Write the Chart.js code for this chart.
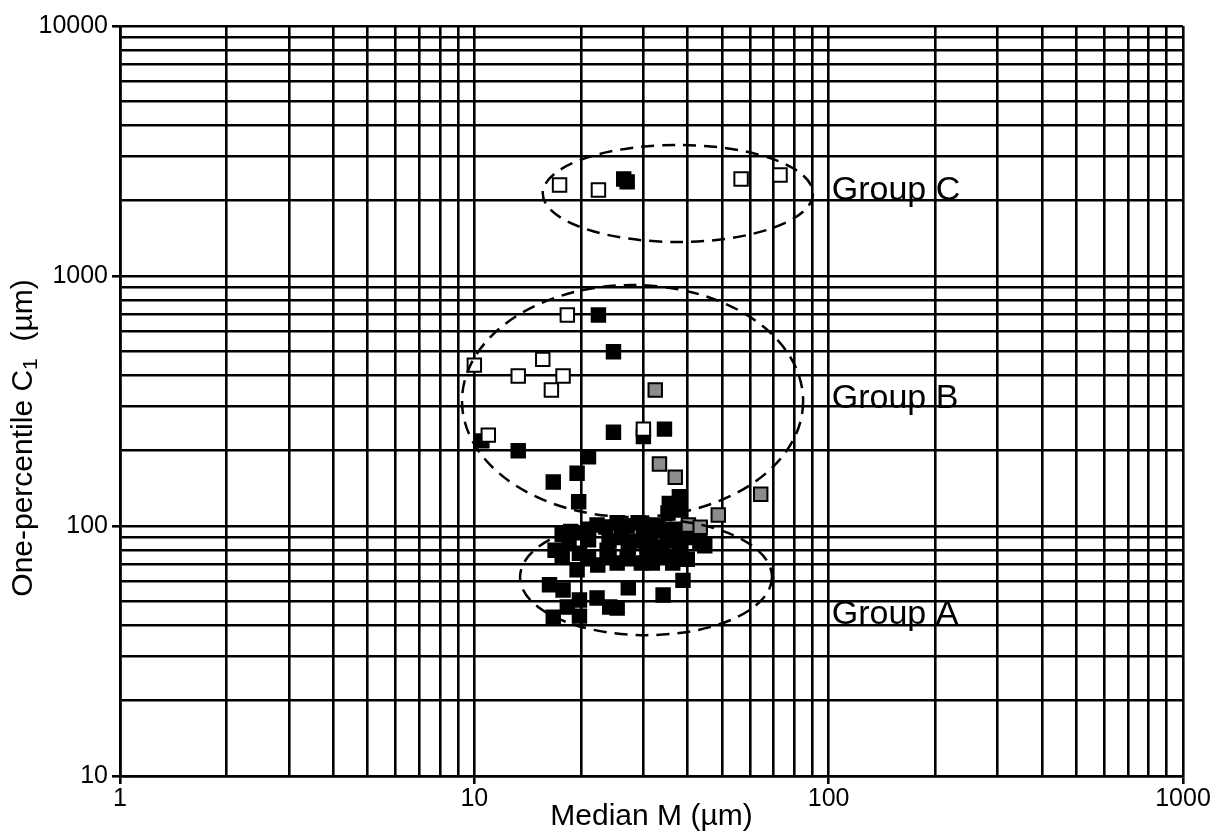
<!DOCTYPE html>
<html><head><meta charset="utf-8">
<script src="https://cdn.jsdelivr.net/npm/chart.js@4.4.1/dist/chart.umd.min.js"></script>
<style>html,body{margin:0;padding:0;background:#fff}canvas{display:block}</style>
</head><body>
<canvas id="c" width="1215" height="832"></canvas>
<script>
// ---- tick values ----
const xTickValues = [1,2,3,4,5,6,7,8,9,10,20,30,40,50,60,70,80,90,100,200,300,400,500,600,700,800,900,1000];
const yTickValues = [10,20,30,40,50,60,70,80,90,100,200,300,400,500,600,700,800,900,1000,2000,3000,4000,5000,6000,7000,8000,9000,10000];
const xLabelled = [1,10,100,1000];
const yLabelled = [10,100,1000,10000];

// ---- data: open (white) squares ----
const openX = [17.4,22.4,56.6,72.9, 18.3,10.0,15.6,13.3,17.8,16.5,10.95,30.0];
const openY = [2312,2208,2443,2535, 698,440,464,398,398,350,231,244];

// ---- data: grey squares ----
const greyX = [32.4,33.3,36.9,64.3,48.8,40.2,43.4];
const greyY = [350,177,156.6,134,110.7,100.9,98.8];

// ---- data: black squares ----
const blackX = [26.4,27.0, 22.4,24.7,10.5,13.3,24.7,30.0,34.4,37.9,35.5,21.0,19.5,16.7,19.7,
  17.7,19.8,22.2,25.3,29.0,31.8,30.7,33.9,38.1,35.2,38.1,
  17.7,19.8,23.7,27.2,30.7,33.9,38.1,16.9,
  19.5,22.3,25.3,29.6,31.8,36.3,39.9,
  44.7,43.3,38.8,34.1,
  16.3,17.8,27.2,18.3,19.8,22.2,24.1,16.7,19.8,25.3,
  18.7,21.0,23.5,27.0,30.0,33.0,36.5,
  18.5,21.0,24.0,26.0,28.5,31.5,35.0,37.5,40.5,
  21.0,24.0,27.0,32.5,35.0,37.5];
const blackY = [2443,2380, 698,498,219,200,237,228,244,131,123,189,162.5,150,125,
  92.5,94,101,103,103,101,96.4,96.4,93.8,112.8,115.8,
  76.3,77.8,80,82.2,80,82.2,80,80,
  66.8,69.8,71.1,71.1,71.1,71.1,73.6,
  83.4,86,60.6,53,
  58.2,55.5,56.6,47.4,50.6,51.5,47.4,43.2,43.6,47,
  95,97,99,100,99,100,97,
  86,88,87,90,87,88,89,87,90,
  74,75,74,76,75,75];

// ---- group ellipses (data units) and labels ----
const groupNames = ['Group A','Group B','Group C'];
const ellipseXMin = [13.46, 9.23, 15.6];
const ellipseXMax = [69.2, 84.7, 90.3];
const ellipseYMin = [36.6, 108.6, 1368];
const ellipseYMax = [106.7, 920, 3342];
const labelX = [102, 102, 102];
const labelY = [40.6, 296, 2014];

const FONT = "'Liberation Sans', Arial, Helvetica, sans-serif";
const toPts = (xs, ys) => xs.map((x, i) => ({x, y: ys[i]}));

const groupsPlugin = {
  id: 'groups',
  afterDatasetsDraw(chart) {
    const {ctx, scales: {x, y}} = chart;
    ctx.save();
    ctx.strokeStyle = '#000';
    ctx.lineWidth = 2.5;
    ctx.setLineDash([13, 8]);
    for (let i = 0; i < groupNames.length; i++) {
      const l = x.getPixelForValue(ellipseXMin[i]), r = x.getPixelForValue(ellipseXMax[i]);
      const t = y.getPixelForValue(ellipseYMax[i]), b = y.getPixelForValue(ellipseYMin[i]);
      ctx.beginPath();
      ctx.ellipse((l + r) / 2, (t + b) / 2, (r - l) / 2, (b - t) / 2, 0, 0, Math.PI * 2);
      ctx.stroke();
    }
    ctx.setLineDash([]);
    ctx.fillStyle = '#000';
    ctx.font = '34px ' + FONT;
    ctx.textAlign = 'left';
    ctx.textBaseline = 'alphabetic';
    for (let i = 0; i < groupNames.length; i++) {
      ctx.fillText(groupNames[i], x.getPixelForValue(labelX[i]), y.getPixelForValue(labelY[i]));
    }
    ctx.restore();
  },
  afterDraw(chart) {
    const ctx = chart.ctx;
    ctx.save();
    ctx.translate(24, 438);
    ctx.rotate(-Math.PI / 2);
    ctx.fillStyle = '#000';
    ctx.textBaseline = 'middle';
    const big = '30px ' + FONT, small = '21px ' + FONT;
    const p1 = 'One-percentile C', p2 = '1', p3 = '  (µm)';
    ctx.font = big; const w1 = ctx.measureText(p1).width, w3 = ctx.measureText(p3).width;
    ctx.font = small; const w2 = ctx.measureText(p2).width;
    let sx = -(w1 + w2 + w3) / 2;
    ctx.font = big; ctx.textAlign = 'left';
    ctx.fillText(p1, sx, 0); sx += w1;
    ctx.font = small; ctx.fillText(p2, sx, 7); sx += w2;
    ctx.font = big; ctx.fillText(p3, sx, 0);
    ctx.restore();
  }
};

new Chart(document.getElementById('c'), {
  type: 'scatter',
  data: {
    datasets: [
      {label: 'open', data: toPts(openX, openY), backgroundColor: '#ffffff', borderColor: '#000', borderWidth: 2, pointStyle: 'rect', pointRadius: 9.5},
      {label: 'grey', data: toPts(greyX, greyY), backgroundColor: '#8c8c8c', borderColor: '#000', borderWidth: 2, pointStyle: 'rect', pointRadius: 9.5},
      {label: 'black', data: toPts(blackX, blackY), backgroundColor: '#000', borderColor: '#000', borderWidth: 2, pointStyle: 'rect', pointRadius: 9.5}
    ]
  },
  options: {
    responsive: false,
    animation: false,
    events: [],
    layout: {padding: {left: 0, right: 32, top: 26, bottom: 0}},
    plugins: {legend: {display: false}, tooltip: {enabled: false}},
    scales: {
      x: {
        type: 'logarithmic', min: 1, max: 1000,
        afterBuildTicks: s => { s.ticks = xTickValues.map(v => ({value: v})); },
        afterFit: s => { s.height = 56; },
        ticks: {autoSkip: false, maxRotation: 0, padding: 0, color: '#000', font: {size: 25, family: FONT},
          callback: v => xLabelled.includes(v) ? String(v) : ''},
        grid: {color: '#000', lineWidth: 2.6, tickLength: 8,
          tickColor: c => (c.tick && xLabelled.includes(c.tick.value)) ? '#000' : 'rgba(0,0,0,0)'},
        border: {color: '#000', width: 2.6},
        title: {display: true, text: 'Median M (µm)', color: '#000', font: {size: 30, family: FONT, lineHeight: 1.0}, padding: 0}
      },
      y: {
        type: 'logarithmic', min: 10, max: 10000,
        afterBuildTicks: s => { s.ticks = yTickValues.map(v => ({value: v})); },
        afterFit: s => { s.width = 120; },
        ticks: {autoSkip: false, padding: 4, color: '#000', font: {size: 25, family: FONT},
          callback: v => yLabelled.includes(v) ? String(v) : ''},
        grid: {color: '#000', lineWidth: 2.6, tickLength: 8,
          tickColor: c => (c.tick && yLabelled.includes(c.tick.value)) ? '#000' : 'rgba(0,0,0,0)'},
        border: {color: '#000', width: 2.6}
      }
    }
  },
  plugins: [groupsPlugin]
});
</script>
</body></html>
